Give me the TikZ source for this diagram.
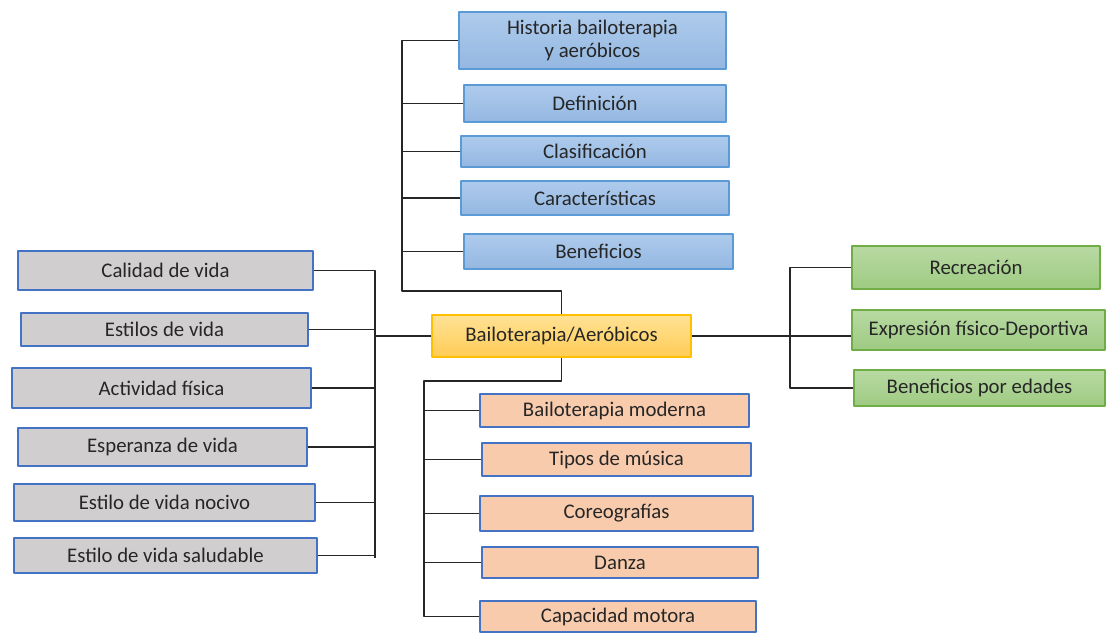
\documentclass[tikz,border=0pt]{standalone}
\usepackage{fontspec}
\setmainfont{Carlito}
\definecolor{azulA}{HTML}{AECBEC}
\definecolor{azulB}{HTML}{94B7E1}
\definecolor{azulBorde}{HTML}{5B9BD5}
\definecolor{verdeA}{HTML}{B8D9A3}
\definecolor{verdeB}{HTML}{9ECB82}
\definecolor{verdeBorde}{HTML}{70AD47}
\definecolor{amaA}{HTML}{FFE296}
\definecolor{amaB}{HTML}{FFCC55}
\definecolor{amaBorde}{HTML}{FFC000}
\definecolor{naranja}{HTML}{F8CBAD}
\definecolor{gris}{HTML}{D0CECE}
\definecolor{bordeGris}{HTML}{4472C4}
\definecolor{texto}{HTML}{262626}
\begin{document}
\begin{tikzpicture}[x=1pt,y=-1pt,font=\fontsize{20.8}{23}\selectfont,line join=round,
	caja/.style={draw,line width=1.5pt,inner sep=1pt,align=center,text=texto},
	azul/.style={caja,draw=azulBorde,top color=azulA,bottom color=azulB},
	verde/.style={caja,draw=verdeBorde,top color=verdeA,bottom color=verdeB},
	centro/.style={caja,draw=amaBorde,top color=amaA,bottom color=amaB},
	naranja/.style={caja,draw=bordeGris,fill=naranja},
	gris/.style={caja,draw=bordeGris,fill=gris},
	linea/.style={line width=1.6pt,black!85}]
		\useasboundingbox (0,0) rectangle (1106,633);
		\node[centro,minimum width=259,minimum height=42] (bail) at (561.5,336) {Bailoterapia/Aeróbicos};
		\node[azul,minimum width=267,minimum height=57] (hist) at (592.5,40.5) {Historia bailoterapia\\y aeróbicos};
		\node[azul,minimum width=262,minimum height=37] (def) at (595,103.5) {Definición};
		\node[azul,minimum width=268,minimum height=31] (cla) at (595,151.5) {Clasificación};
		\node[azul,minimum width=268,minimum height=34] (car) at (595,198) {Características};
		\node[azul,minimum width=269,minimum height=35] (ben) at (598.5,251.5) {Beneficios};
		\node[gris,minimum width=295,minimum height=39] (cal) at (165.5,270.5) {Calidad de vida};
		\node[gris,minimum width=287,minimum height=33] (est) at (164.5,329.5) {Estilos de vida};
		\node[gris,minimum width=299,minimum height=40] (act) at (161.5,388) {Actividad física};
		\node[gris,minimum width=289,minimum height=38] (esp) at (162.5,447) {Esperanza de vida};
		\node[gris,minimum width=301,minimum height=37] (noc) at (164.5,502.5) {Estilo de vida nocivo};
		\node[gris,minimum width=303,minimum height=35] (sal) at (165.5,555.5) {Estilo de vida saludable};
		\node[naranja,minimum width=269,minimum height=33] (mod) at (614.5,410.5) {Bailoterapia moderna};
		\node[naranja,minimum width=269,minimum height=33] (mus) at (616.5,459.5) {Tipos de música};
		\node[naranja,minimum width=273,minimum height=35] (cor) at (616.5,513.5) {Coreografías};
		\node[naranja,minimum width=276,minimum height=31] (dan) at (620,562.5) {Danza};
		\node[naranja,minimum width=276,minimum height=31] (cap) at (618,616.5) {Capacidad motora};
		\node[verde,minimum width=248,minimum height=43] (rec) at (976,267.5) {Recreación};
		\node[verde,minimum width=253,minimum height=40] (exp) at (978.5,330) {Expresión físico-Deportiva};
		\node[verde,minimum width=251,minimum height=36] (eda) at (979.5,388) {Beneficios por edades};
		\coordinate (tAz) at (402,291);
		\coordinate (tGr) at (375,558);
		\coordinate (tNa) at (424,381);
		\coordinate (tVe) at (790,0);
		\draw[linea] (hist.west) -- (hist.west -| tAz) -- (tAz) -| (bail.north);
		\foreach \n in {def,cla,car,ben} \draw[linea] (\n.west) -- (\n.west -| tAz);
		\draw[linea] (cal.east) -- (cal.east -| tGr) -- (tGr);
		\foreach \n in {est,act,esp,noc,sal} \draw[linea] (\n.east) -- (\n.east -| tGr);
		\draw[linea] (bail.west) -- (bail.west -| tGr);
		\draw[linea] (bail.south) |- (tNa) -- (tNa |- cap.west) -- (cap.west);
		\foreach \n in {mod,mus,cor,dan} \draw[linea] (\n.west) -- (\n.west -| tNa);
		\draw[linea] (rec.west) -- (rec.west -| tVe) -- (eda.west -| tVe) -- (eda.west);
		\draw[linea] (bail.east) -- (bail.east -| exp.west);
\end{tikzpicture}
\end{document}
